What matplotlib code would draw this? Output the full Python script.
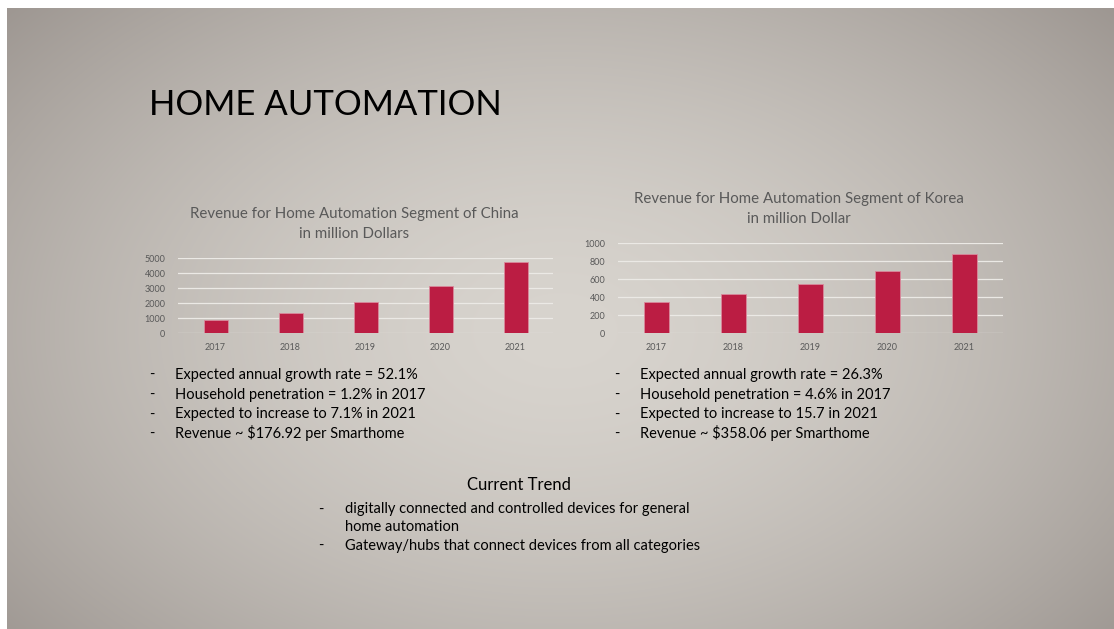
import numpy as np
import matplotlib
matplotlib.use('Agg')
import matplotlib.pyplot as plt

plt.rcParams['font.family'] = ['Lato', 'DejaVu Sans']

# Data
years = ['2017', '2018', '2019', '2020', '2021']
china_revenue = [890, 1340, 2060, 3150, 4780]
korea_revenue = [345, 437, 548, 696, 878]
china_ticks = [0, 1000, 2000, 3000, 4000, 5000]
korea_ticks = [0, 200, 400, 600, 800, 1000]

china_notes = ['Expected annual growth rate = 52.1%',
               'Household penetration = 1.2% in 2017',
               'Expected to increase to 7.1% in 2021',
               'Revenue ~ $176.92 per Smarthome']
korea_notes = ['Expected annual growth rate = 26.3%',
               'Household penetration = 4.6% in 2017',
               'Expected to increase to 15.7 in 2021',
               'Revenue ~ $358.06 per Smarthome']
trend_notes = ['digitally connected and controlled devices for general\nhome automation',
               'Gateway/hubs that connect devices from all categories']

W, H = 1114, 629
BAR = '#bb1d43'
GREY = '#595959'

fig = plt.figure(figsize=(W / 100, H / 100), dpi=100)
fig.patch.set_facecolor('white')


def rect(x0, y0, x1, y1):
    return [x0 / W, 1 - y1 / H, (x1 - x0) / W, (y1 - y0) / H]


def put(x, y, s, **kw):
    fig.text(x / W, 1 - y / H, s, **kw)


# slide background: soft radial gradient
bg = fig.add_axes(rect(7, 8, W, H))
bg.set_axis_off()
gx, gy = np.meshgrid(np.linspace(0, 1, 400), np.linspace(0, 1, 240))
r = np.sqrt(((gx - 0.5) / 0.72) ** 2 + ((gy - 0.52) / 0.85) ** 2)
r = np.clip(r, 0, 1) ** 1.6
inner = np.array([216, 212, 206]) / 255
outer = np.array([150, 143, 138]) / 255
img = inner[None, None, :] + (outer - inner)[None, None, :] * r[:, :, None]
bg.imshow(img, aspect='auto', extent=[0, 1, 0, 1], interpolation='bilinear')
bg.set_xlim(0, 1)
bg.set_ylim(0, 1)

put(149, 105, 'HOME AUTOMATION', fontsize=25, color='black', va='center', ha='left')


def bar_chart(box, values, ticks, title, title_x, title_y):
    ax = fig.add_axes(rect(*box))
    ax.patch.set_alpha(0)
    x = np.arange(len(years))
    ax.bar(x, values, width=0.32, color=BAR, edgecolor='#d98a9c', linewidth=0.6, zorder=3)
    ax.set_xlim(-0.5, len(years) - 0.5)
    ax.set_ylim(0, ticks[-1])
    ax.set_yticks(ticks)
    ax.set_xticks(x)
    ax.set_xticklabels(years)
    ax.tick_params(length=0, labelsize=6.5, labelcolor=GREY, pad=7)
    ax.tick_params(axis='y', pad=9)
    ax.grid(axis='y', color='#ebe9e5', linewidth=0.9, zorder=0)
    for s in ax.spines.values():
        s.set_visible(False)
    put(title_x, title_y, title, fontsize=10.8, color=GREY, ha='center', va='center',
        linespacing=1.5)
    return ax


bar_chart((178, 258.3, 553, 333.3), china_revenue, china_ticks,
          'Revenue for Home Automation Segment of China\nin million Dollars', 354, 224)
bar_chart((618, 243.3, 1003, 333.3), korea_revenue, korea_ticks,
          'Revenue for Home Automation Segment of Korea\nin million Dollar', 799, 209)


def bullet(xd, xt, y, line):
    # y is the baseline of the line
    put(xd, y, '-', fontsize=10.5, color='black', va='baseline', ha='center')
    put(xt, y, line, fontsize=10.5, color='black', va='baseline', linespacing=1.3)


for i, line in enumerate(china_notes):
    bullet(152, 175, 379 + i * 19.7, line)

for i, line in enumerate(korea_notes):
    bullet(617, 640, 379 + i * 19.7, line)

put(519, 485, 'Current Trend', fontsize=12, color='black', ha='center', va='center')
put(321, 514, '-', fontsize=10.5, color='black', va='baseline', ha='center')
put(345, 502, trend_notes[0], fontsize=10.5, color='black', va='top', linespacing=1.38)
bullet(321, 345, 550, trend_notes[1])

fig.savefig('out.png', dpi=100)
